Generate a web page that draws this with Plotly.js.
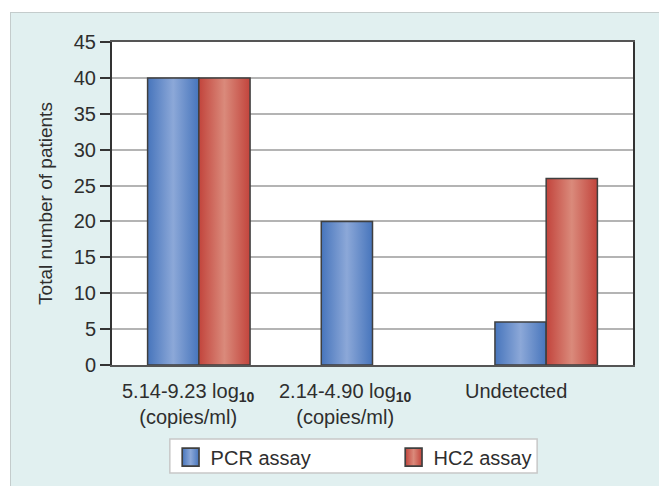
<!DOCTYPE html>
<html>
<head>
<meta charset="utf-8">
<script src="https://cdn.plot.ly/plotly-3.0.1.min.js"></script>
<style>
  html, body { margin: 0; padding: 0; background: #ffffff; width: 659px; height: 486px; overflow: hidden; }
  #panel { position: absolute; left: 10px; top: 12px; width: 649px; height: 474px;
           background: #e1f0f0; border-left: 1px solid #c4cccc; border-top: 1px solid #c4cccc; box-sizing: border-box; }
  #chart { position: absolute; left: 11px; top: 13px; width: 648px; height: 473px; }
</style>
</head>
<body>
<div id="panel"></div>
<div id="chart"></div>
<script>
// ---- data ----
var categories = ['5.14-9.23', '2.14-4.90', 'Undetected'];
var categoryLabels = [
  '5.14-9.23 log<sub><b>10</b></sub><br>(copies/ml)',
  '2.14-4.90 log<sub><b>10</b></sub><br>(copies/ml)',
  'Undetected'
];
var pcrValues = [40, 20, 6];
var hc2Values = [40, 0, 26];
var seriesNames = ['PCR assay', 'HC2 assay'];
var yTicks = [0, 5, 10, 15, 20, 25, 30, 35, 40, 45];
var yTitle = 'Total number of patients';

// label placement (the reference's labels sit a little left of their bar groups)
var labelShift = [-0.062, -0.158, -0.174];

var FONT = 'Liberation Sans, Arial, sans-serif';
var TXT = '#2e2e2e';

function outlineWidths(vals) { return vals.map(function (v) { return v === 0 ? 0 : 1.5; }); }

var traces = [
  { type: 'bar', name: seriesNames[0], x: categories, y: pcrValues,
    marker: { color: '#5f87c8', line: { color: '#3f3f3f', width: outlineWidths(pcrValues) } } },
  { type: 'bar', name: seriesNames[1], x: categories, y: hc2Values,
    marker: { color: '#cc5f55', line: { color: '#3f3f3f', width: outlineWidths(hc2Values) } } }
];

var annotations = categoryLabels.map(function (t, i) {
  return { text: t, xref: 'x', yref: 'paper', x: i + labelShift[i], y: 0,
           xanchor: 'center', yanchor: 'top', yshift: -13, showarrow: false, align: 'center',
           font: { family: FONT, size: 20, color: TXT } };
});

var layout = {
  width: 648, height: 473,
  margin: { l: 101, r: 26, t: 29, b: 121, autoexpand: false },
  paper_bgcolor: 'rgba(0,0,0,0)',
  plot_bgcolor: '#ffffff',
  barmode: 'group',
  bargap: 0.41,
  bargroupgap: 0,
  font: { family: FONT, size: 20, color: TXT },
  showlegend: true,
  legend: {
    orientation: 'h', x: 0.1125, xanchor: 'left', y: -0.285, yanchor: 'middle',
    bgcolor: 'rgba(0,0,0,0)', borderwidth: 0,
    font: { family: FONT, size: 20, color: TXT },
    entrywidth: 178, entrywidthmode: 'pixels',
    traceorder: 'normal'
  },
  shapes: [
    { type: 'rect', xref: 'paper', yref: 'paper', layer: 'below',
      x0: 0.111, x1: 0.816, y0: -0.229, y1: -0.334,
      fillcolor: '#ffffff', line: { color: '#c8c8c8', width: 1.5 } }
  ],
  annotations: annotations,
  xaxis: {
    type: 'category', categoryarray: categories,
    showgrid: false, ticks: '', zeroline: false, showticklabels: false,
    showline: true, linecolor: '#555555', linewidth: 2, mirror: true
  },
  yaxis: {
    range: [0, 45], tickvals: yTicks, ticktext: yTicks.map(String),
    ticks: 'outside', ticklen: 10, tickwidth: 2, tickcolor: '#333333',
    showline: true, linecolor: '#333333', linewidth: 2, mirror: true,
    showgrid: true, gridcolor: '#b4b4b4', gridwidth: 2, zeroline: false,
    tickfont: { family: FONT, size: 20, color: TXT },
    title: { text: yTitle, font: { family: FONT, size: 19, color: TXT }, standoff: 16 }
  }
};

function addGradients(gd) {
  var svg = gd.querySelector('svg.main-svg');
  var ns = 'http://www.w3.org/2000/svg';
  var defs = svg.querySelector('defs') || svg.insertBefore(document.createElementNS(ns, 'defs'), svg.firstChild);
  function grad(id, edge, mid) {
    var g = document.createElementNS(ns, 'linearGradient');
    g.setAttribute('id', id);
    g.setAttribute('x1', '0'); g.setAttribute('y1', '0');
    g.setAttribute('x2', '1'); g.setAttribute('y2', '0');
    [[0, edge], [0.5, mid], [1, edge]].forEach(function (s) {
      var st = document.createElementNS(ns, 'stop');
      st.setAttribute('offset', s[0]);
      st.setAttribute('stop-color', s[1]);
      g.appendChild(st);
    });
    defs.appendChild(g);
  }
  grad('gBlue', '#4775bc', '#8ca8d8');
  grad('gRed', '#c2443c', '#da8a7b');
  var ids = ['gBlue', 'gRed'];
  gd.querySelectorAll('g.barlayer g.trace.bars').forEach(function (t, i) {
    t.querySelectorAll('path').forEach(function (p) { p.style.fill = 'url(#' + ids[i] + ')'; });
  });
  gd.querySelectorAll('g.legend g.traces').forEach(function (t, i) {
    t.querySelectorAll('g.legendpoints path').forEach(function (p) {
      p.style.fill = 'url(#' + ids[i] + ')';
      p.style.strokeWidth = '1.2px';
      p.setAttribute('transform', (p.getAttribute('transform') || '') + ' scale(1.4,1.5)');
    });
  });
}

Plotly.newPlot('chart', traces, layout, { displayModeBar: false, staticPlot: true })
  .then(addGradients);
</script>
</body>
</html>
